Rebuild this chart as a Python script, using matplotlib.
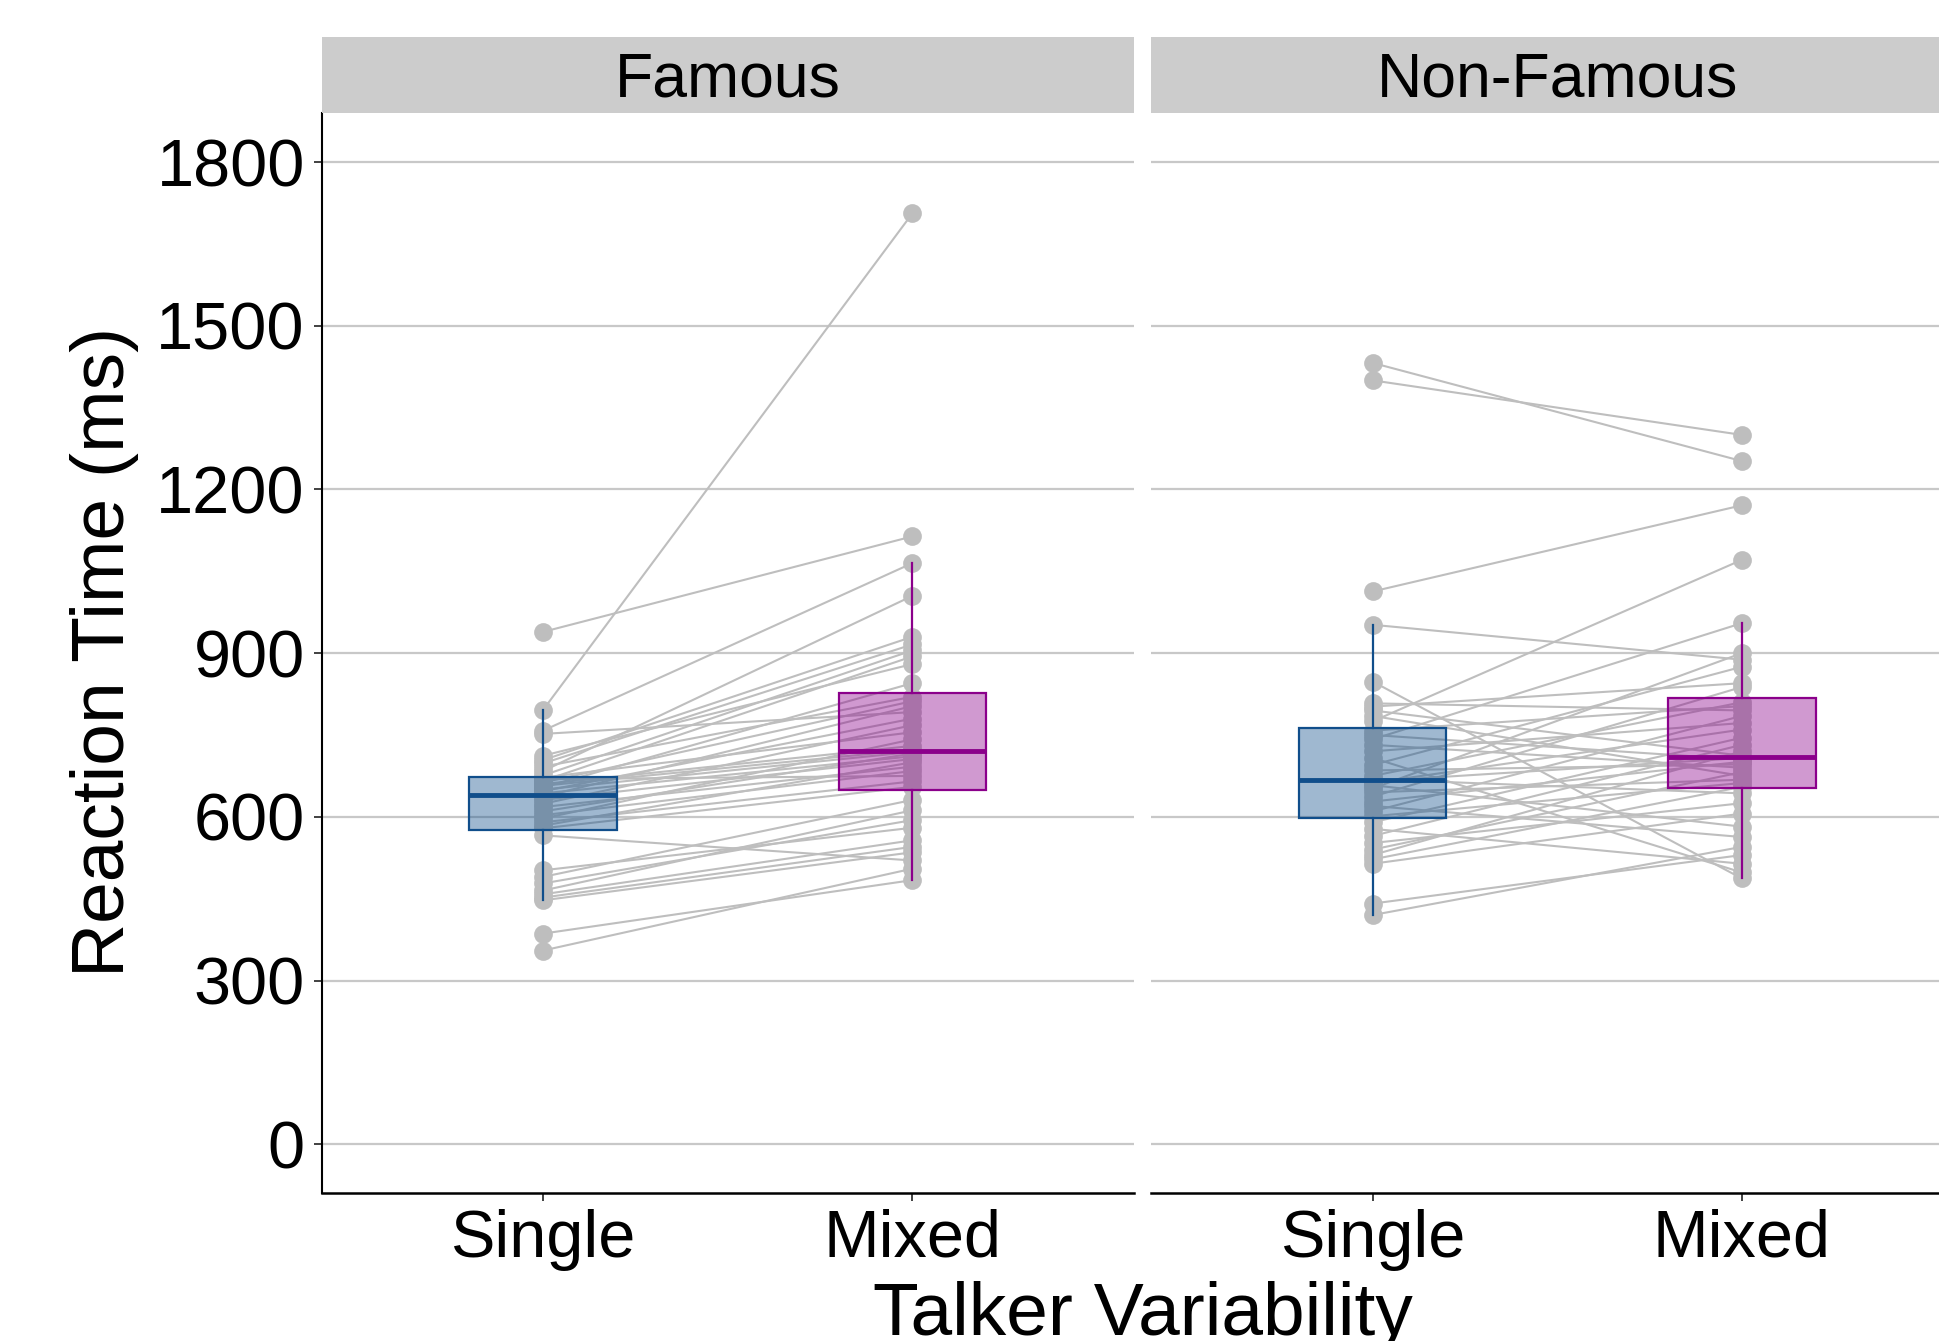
import matplotlib
matplotlib.use('Agg')
import matplotlib.pyplot as plt
from matplotlib.colors import to_rgba

plt.rcParams['font.family'] = ['Liberation Sans', 'DejaVu Sans']

# Data: one value per participant, paired Single / Mixed
panels = ['Famous', 'Non-Famous']
conditions = ['Single', 'Mixed']

famous_single = [355, 386, 447, 452, 458, 465, 478, 490, 502, 566,
                 579, 584, 590, 597, 603, 610, 618, 624, 631, 637,
                 643, 647, 650, 654, 657, 660, 663, 666, 669, 672,
                 676, 684, 692, 698, 704, 712, 752, 758, 796, 939]
famous_mixed = [505, 484, 535, 545, 557, 612, 594, 631, 580, 520,
                655, 700, 665, 742, 684, 716, 692, 768, 706, 803,
                711, 780, 719, 845, 723, 730, 812, 894, 675, 755,
                905, 1005, 820, 916, 930, 880, 792, 1065, 1706, 1114]

nonfamous_single = [420, 441, 514, 522, 530, 540, 552, 565, 578, 590,
                    601, 610, 620, 628, 637, 645, 652, 658, 662, 665,
                    669, 675, 685, 695, 708, 720, 732, 742, 750, 758,
                    775, 785, 795, 802, 808, 848, 952, 1013, 1400, 1432]
nonfamous_mixed = [545, 530, 606, 655, 720, 682, 625, 732, 514, 745,
                   662, 785, 563, 701, 838, 668, 900, 582, 760, 708,
                   643, 810, 696, 875, 498, 772, 690, 955, 705, 803,
                   1071, 675, 712, 845, 795, 487, 888, 1171, 1300, 1252]

y_ticks = [0, 300, 600, 900, 1200, 1500, 1800]

box_colors = ['#104E8B', '#8B008B']
grey_pts = '#BEBEBE'

W, H = 1939, 1341


def px_axes(fig, x0, y0, x1, y1):
    """add axes from pixel box (top-left origin)"""
    return fig.add_axes([x0 / W, (H - y1) / H, (x1 - x0) / W, (y1 - y0) / H])


def draw_panel(ax, single, mixed, show_y):
    # paired lines + points
    for s, m in zip(single, mixed):
        ax.plot([1, 2], [s, m], color=grey_pts, lw=1.5, zorder=2)
    ax.plot([1] * len(single), single, 'o', color=grey_pts, ms=13.5, mec='none', zorder=2)
    ax.plot([2] * len(mixed), mixed, 'o', color=grey_pts, ms=13.5, mec='none', zorder=2)

    bp = ax.boxplot([single, mixed], positions=[1, 2], widths=0.4, patch_artist=True,
                    showcaps=False, showfliers=False, whis=1.5, zorder=3)
    for i, c in enumerate(box_colors):
        bp['boxes'][i].set_facecolor(to_rgba(c, 0.4))
        bp['boxes'][i].set_edgecolor(c)
        bp['boxes'][i].set_linewidth(1.6)
        bp['medians'][i].set_color(c)
        bp['medians'][i].set_linewidth(3.5)
        for w in bp['whiskers'][2 * i:2 * i + 2]:
            w.set_color(c)
            w.set_linewidth(1.6)

    ax.set_xlim(0.4, 2.6)
    ax.set_ylim(-90, 1890)
    ax.set_xticks([1, 2])
    ax.set_xticklabels(conditions, fontsize=48)
    ax.set_yticks(y_ticks)
    ax.yaxis.grid(True, color='#C8C8C8', lw=1.6, zorder=0)
    ax.set_axisbelow(True)

    for side in ['top', 'right']:
        ax.spines[side].set_visible(False)
    ax.spines['bottom'].set_linewidth(1.8)
    ax.spines['left'].set_linewidth(1.5)
    ax.tick_params(axis='x', length=6, width=1.3, color='#333333', pad=5)
    if show_y:
        ax.tick_params(axis='y', length=6, width=1.3, color='#333333', pad=6, labelsize=48)
    else:
        ax.spines['left'].set_visible(False)
        ax.tick_params(axis='y', length=0, labelleft=False)


def draw_strip(fig, x0, x1, label):
    sax = px_axes(fig, x0, 37, x1, 113)
    sax.set_facecolor('#CCCCCC')
    sax.set_xticks([])
    sax.set_yticks([])
    for sp in sax.spines.values():
        sp.set_visible(False)
    sax.text(0.5, 0.44, label, ha='center', va='center', fontsize=45, transform=sax.transAxes)


if __name__ == "__main__":
    fig = plt.figure(figsize=(W / 100, H / 100), dpi=100)

    ax1 = px_axes(fig, 321.5, 113, 1134, 1193.3)
    ax2 = px_axes(fig, 1151, 113, 1963.5, 1193.3)

    draw_panel(ax1, famous_single, famous_mixed, True)
    draw_panel(ax2, nonfamous_single, nonfamous_mixed, False)

    draw_strip(fig, 321.5, 1134, panels[0])
    draw_strip(fig, 1151, 1963.5, panels[1])

    fig.text(105 / W, 1 - 652 / H, 'Reaction Time (ms)', rotation=90,
             ha='center', va='center', fontsize=54)
    fig.text(1142.5 / W, 1 - 1335 / H, 'Talker Variability',
             ha='center', va='baseline', fontsize=54)

    fig.savefig('out.png', dpi=100)
